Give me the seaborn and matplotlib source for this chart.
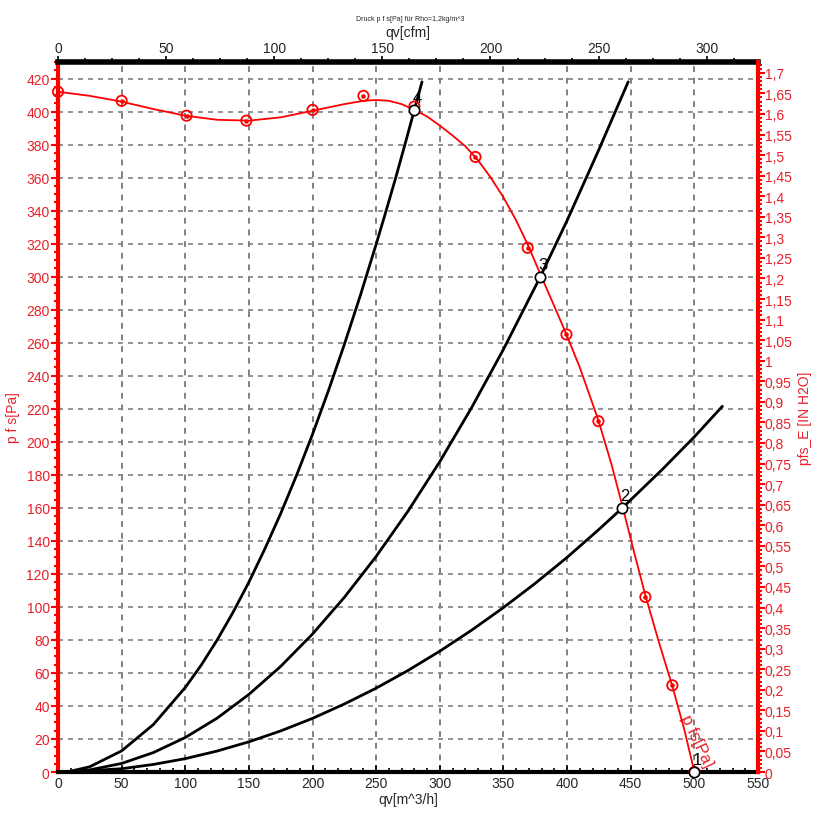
import numpy as np
import pandas as pd
import matplotlib
matplotlib.use("Agg")
import matplotlib.pyplot as plt
import seaborn as sns
from matplotlib.ticker import MultipleLocator, FuncFormatter

# Fan curve p_fs [Pa] vs qv [m^3/h]
fan_q = [0, 25, 50, 75, 100, 125, 150, 175, 200, 225, 240, 250, 260, 270, 280, 290, 300, 310,
         320, 330, 340, 350, 360, 369, 379, 390, 399.5, 410, 424.6, 435, 443.5, 452, 461.5,
         472, 482.7, 492, 500]
fan_p = [412, 409.5, 406, 401.5, 397.5, 395, 394.5, 396.5, 400.5, 404.5, 406.5, 407, 406.5,
         404.5, 401, 397, 391.5, 385.5, 379, 370.5, 360, 348, 334, 319.5, 301.5, 282, 265,
         245, 213, 186, 161, 135, 107, 79, 52, 26, 0]

# Measured points (red markers)
meas_q = [0, 50, 101, 148, 200, 240, 280, 328, 369, 399.5, 424.6, 461.5, 482.7, 500]
meas_p = [412, 406.5, 397.5, 394.5, 401, 409.5, 403, 372.5, 317.5, 265, 212.5, 106, 52.5, 0]

# System curves through operating points 4, 3, 2
sys4_q = [10, 25, 50, 75, 100, 112.5, 125, 137.5, 150, 162.5, 175, 187.5, 200, 212.5, 225,
          237.5, 250, 257, 265, 272, 280, 286]
sys4_p = [0.5, 3.2, 12.8, 28.8, 51.2, 64.7, 79.9, 96.7, 115, 135.1, 156.6, 179.8, 204.6, 231,
          259, 288.5, 319.7, 337.8, 359, 378.4, 401, 418]
sys3_q = [10, 25, 50, 75, 100, 125, 150, 175, 200, 225, 250, 275, 300, 325, 350, 379, 400, 425, 448]
sys3_p = [0.2, 1.3, 5.2, 11.8, 20.9, 32.6, 47, 64, 83.6, 105.8, 130.6, 158, 188, 220.7, 256, 300, 334, 377, 418]
sys2_q = [10, 50, 75, 100, 125, 150, 175, 200, 225, 250, 275, 300, 325, 350, 375, 400, 425, 443.5, 475, 500, 522]
sys2_p = [0.1, 2, 4.6, 8.1, 12.7, 18.3, 24.9, 32.5, 41.2, 50.8, 61.5, 73.2, 85.9, 99.6, 114.3, 130, 146.9, 160, 183.4, 203, 221.5]
sys1_q = [500, 520]
sys1_p = [0, 0]

# Operating points
op_labels = ["4", "3", "2", "1"]
op_q = [280, 379, 443.5, 500]
op_p = [401, 300, 160, 0]

RED = "#ff0000"
RED_TXT = "#e8202a"

sns.set_style("white")
plt.rcParams["font.family"] = ["Liberation Sans", "DejaVu Sans"]

fig = plt.figure(figsize=(8.25, 8.28), dpi=100)
ax = fig.add_subplot(111)
fig.subplots_adjust(left=0.0703, right=0.9188, bottom=0.0664, top=0.9239)

ax.set_xlim(0, 550)
ax.set_ylim(0, 430)

# grid
for xv in range(50, 550, 50):
    ax.axvline(xv, color="#808080", lw=1.4, ls=(0, (3, 3)), zorder=0)
for yv in range(20, 430, 20):
    ax.axhline(yv, color="#808080", lw=1.2, ls=(0, (3, 3)), zorder=0)

# system curves
for q, p in [(sys4_q, sys4_p), (sys3_q, sys3_p), (sys2_q, sys2_p), (sys1_q, sys1_p)]:
    sns.lineplot(x=q, y=p, ax=ax, color="black", lw=2, sort=False, estimator=None, zorder=3)

# fan curve
sns.lineplot(x=fan_q, y=fan_p, ax=ax, color=RED, lw=1.3, sort=False, estimator=None, zorder=4)
sns.scatterplot(x=meas_q, y=meas_p, ax=ax, s=55, facecolor="none", edgecolor=RED,
                linewidth=1.3, zorder=5, clip_on=False)
sns.scatterplot(x=meas_q, y=meas_p, ax=ax, s=9, color=RED, edgecolor=RED, zorder=5, clip_on=False)

# operating points
sns.scatterplot(x=op_q, y=op_p, ax=ax, s=55, color="white", edgecolor="black",
                linewidth=1.2, zorder=6, clip_on=False)
for lab, q, p in zip(op_labels, op_q, op_p):
    ax.annotate(lab, (q, p), xytext=(2, 9), textcoords="offset points",
                ha="center", va="center", fontsize=12, color="black", zorder=7)

ax.text(502, 19, "p fs[Pa]", color=RED_TXT, fontsize=12, rotation=-65,
        ha="center", va="center", rotation_mode="anchor")

# spines
ax.spines["left"].set_color(RED)
ax.spines["left"].set_linewidth(3)
ax.spines["bottom"].set_color("black")
ax.spines["bottom"].set_linewidth(3)
ax.spines["top"].set_color("black")
ax.spines["top"].set_linewidth(4)
ax.spines["right"].set_visible(False)

# left axis
ax.yaxis.set_major_locator(MultipleLocator(20))
ax.yaxis.set_minor_locator(MultipleLocator(5))
ax.tick_params(axis="y", which="major", direction="out", length=5, width=1.5,
               color=RED, labelcolor=RED_TXT, labelsize=10, pad=1, left=True)
ax.tick_params(axis="y", which="minor", direction="out", length=3, width=1.5, color=RED, left=True)
ax.set_ylabel("p f s[Pa]", color=RED_TXT, fontsize=10)
ax.yaxis.set_label_coords(-0.054, 0.5)

# bottom axis
ax.xaxis.set_major_locator(MultipleLocator(50))
ax.xaxis.set_minor_locator(MultipleLocator(10))
ax.tick_params(axis="x", which="major", direction="in", length=5, width=1.2,
               color="black", labelsize=10, pad=3, bottom=True)
ax.tick_params(axis="x", which="minor", direction="in", length=3, width=1.2, color="black", bottom=True)
ax.set_xlabel("qv[m^3/h]", fontsize=10, labelpad=1)

# right axis in inch H2O
PA_PER_INH2O = 249.09
axr = ax.twinx()
axr.set_ylim(0, 430 / PA_PER_INH2O)
for s in axr.spines.values():
    s.set_visible(False)
axr.spines["right"].set_visible(True)
axr.spines["right"].set_color(RED)
axr.spines["right"].set_linewidth(3)
axr.yaxis.set_major_locator(MultipleLocator(0.05))
axr.yaxis.set_minor_locator(MultipleLocator(0.01))


def comma_fmt(v, pos):
    t = f"{v:.2f}".rstrip("0").rstrip(".")
    return t.replace(".", ",")


axr.yaxis.set_major_formatter(FuncFormatter(comma_fmt))
axr.tick_params(axis="y", which="major", direction="out", length=5, width=1.5,
                color=RED, labelcolor=RED_TXT, labelsize=10, pad=0, right=True)
axr.tick_params(axis="y", which="minor", direction="out", length=3, width=1.5, color=RED, right=True)
axr.set_ylabel("pfs_E [IN H2O]", color=RED_TXT, fontsize=10)
axr.yaxis.set_label_coords(1.057, 0.5)

# top axis in cfm
M3H_PER_CFM = 1.699
axt = ax.twiny()
axt.set_xlim(0, 550 / M3H_PER_CFM)
for s in axt.spines.values():
    s.set_visible(False)
axt.xaxis.set_major_locator(MultipleLocator(50))
axt.xaxis.set_minor_locator(MultipleLocator(12.5))
axt.tick_params(axis="x", which="major", direction="out", length=4, width=1.2,
                color="black", labelsize=10, pad=1, top=True)
axt.tick_params(axis="x", which="minor", direction="out", length=3, width=1.2, color="black", top=True)
axt.set_xlabel("qv[cfm]", fontsize=10, labelpad=4)

fig.text(0.497, 0.976, "Druck p f s[Pa] für Rho=1,2kg/m^3", fontsize=5, ha="center", va="center")

fig.savefig("out.png", dpi=100)
